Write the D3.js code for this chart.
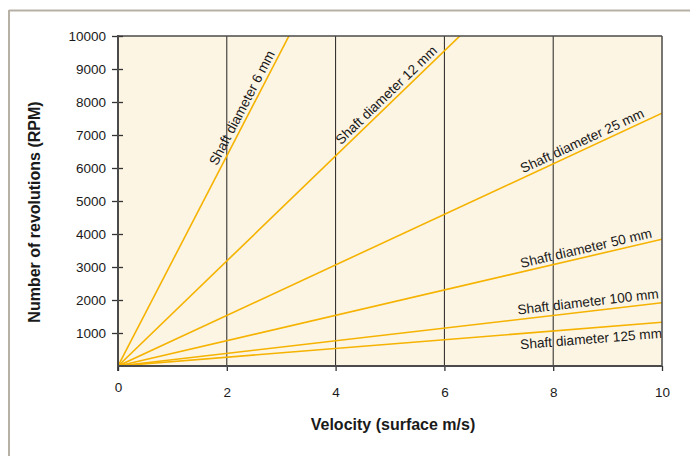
<!DOCTYPE html>
<html>
<head>
<meta charset="utf-8">
<script src="https://cdn.jsdelivr.net/npm/d3@7"></script>
<style>
html,body{margin:0;padding:0;background:#fff;}
svg{display:block;font-family:"Liberation Sans",Arial,Helvetica,sans-serif;}
</style>
</head>
<body>
<svg id="chart" width="690" height="456"></svg>
<script>
// ---- data ----
const shaftDiameters = ["6", "12", "25", "50", "100", "125"];          // mm
const rpmAtZero = [0, 0, 0, 0, 0, 0];                                   // RPM at 0 m/s
const rpmAtTen = [31831, 15915, 7660, 3840, 1915, 1325];                // RPM at 10 m/s
const velocityDomain = [0, 10];
const xTickValues = [0, 2, 4, 6, 8, 10];
const yTickValues = [1000, 2000, 3000, 4000, 5000, 6000, 7000, 8000, 9000, 10000];
const xTitle = "Velocity (surface m/s)";
const yTitle = "Number of revolutions (RPM)";

// ---- layout ----
const svg = d3.select("#chart");
const L = 118, R = 662, T = 36, B = 366;
const x = d3.scaleLinear().domain(velocityDomain).range([L, R]);
const y = d3.scaleLinear().domain([0, 10000]).range([B, T]);

// outer frame (top + left)
svg.append("line").attr("x1", 9).attr("x2", 690).attr("y1", 10.5).attr("y2", 10.5)
  .attr("stroke", "#b7b0a5").attr("stroke-width", 2);
svg.append("line").attr("x1", 9).attr("x2", 9).attr("y1", 10).attr("y2", 456)
  .attr("stroke", "#b7b0a5").attr("stroke-width", 2);

// plot background
svg.append("rect").attr("x", L).attr("y", T).attr("width", R - L).attr("height", B - T)
  .attr("fill", "#fdf5e4");

// vertical grid lines
svg.append("g").selectAll("line").data(xTickValues.filter(d => d > 0 && d < 10)).join("line")
  .attr("x1", d => x(d)).attr("x2", d => x(d)).attr("y1", T).attr("y2", B)
  .attr("stroke", "#222").attr("stroke-width", 1);

// clip
svg.append("clipPath").attr("id", "clip").append("rect")
  .attr("x", L).attr("y", T).attr("width", R - L).attr("height", B - T);

// series lines
const series = shaftDiameters.map((d, i) => ({
  name: d,
  pts: [{v: velocityDomain[0], r: rpmAtZero[i]}, {v: velocityDomain[1], r: rpmAtTen[i]}]
}));
const line = d3.line().x(p => x(p.v)).y(p => y(p.r));
svg.append("g").attr("clip-path", "url(#clip)").selectAll("path").data(series).join("path")
  .attr("d", s => line(s.pts)).attr("fill", "none")
  .attr("stroke", "#f5b300").attr("stroke-width", 1.6);

// labels along lines
const labelV = [2.42, 5.04, 8.6, 8.64, 8.66, 8.68];
const labelDy = [-4, -4, -4, -4, -5, 15.5];
series.forEach((s, i) => {
  const v = labelV[i];
  const r = rpmAtZero[i] + (rpmAtTen[i] - rpmAtZero[i]) * v / 10;
  const px = x(v), py = y(r);
  const ang = Math.atan2(y(rpmAtTen[i]) - y(rpmAtZero[i]), x(10) - x(0)) * 180 / Math.PI;
  svg.append("text")
    .attr("transform", `translate(${px},${py}) rotate(${ang})`)
    .attr("dy", labelDy[i])
    .attr("text-anchor", "middle")
    .attr("font-size", 13.7)
    .attr("fill", "#1a1a1a")
    .text(`Shaft diameter ${s.name} mm`);
});

// plot border (top, right)
svg.append("line").attr("x1", L).attr("x2", R).attr("y1", T).attr("y2", T)
  .attr("stroke", "#4a4a4a").attr("stroke-width", 1.5);
svg.append("line").attr("x1", R).attr("x2", R).attr("y1", T).attr("y2", B)
  .attr("stroke", "#4a4a4a").attr("stroke-width", 1.5);

// y axis
const yAxis = svg.append("g").attr("transform", `translate(${L},0)`)
  .call(d3.axisLeft(y).tickValues(yTickValues).tickSize(6).tickPadding(6).tickFormat(d3.format("d")));
yAxis.select(".domain").remove();
yAxis.selectAll(".tick line").attr("x1", 5).attr("x2", -6).attr("stroke", "#333").attr("stroke-width", 1.3);
yAxis.selectAll(".tick text").attr("font-size", 13.5).attr("fill", "#1a1a1a")
  .attr("font-family", "Liberation Sans, Arial, sans-serif");
svg.append("line").attr("x1", L).attr("x2", L).attr("y1", T - 1).attr("y2", B + 5)
  .attr("stroke", "#4a4a4a").attr("stroke-width", 2);

// x axis
const xAxis = svg.append("g").attr("transform", `translate(0,${B})`)
  .call(d3.axisBottom(x).tickValues(xTickValues).tickSize(5).tickPadding(0).tickFormat(d3.format("d")));
xAxis.select(".domain").remove();
xAxis.selectAll(".tick line").attr("stroke", "#333").attr("stroke-width", 1.3);
xAxis.selectAll(".tick text").attr("font-size", 13.5).attr("fill", "#1a1a1a")
  .attr("font-family", "Liberation Sans, Arial, sans-serif")
  .attr("dy", null)
  .attr("y", d => d === 0 ? 25.5 : 31);
svg.append("line").attr("x1", L - 1).attr("x2", R).attr("y1", B).attr("y2", B)
  .attr("stroke", "#4a4a4a").attr("stroke-width", 2);

// axis titles
svg.append("text").attr("x", (L + R) / 2 + 3).attr("y", 430)
  .attr("text-anchor", "middle").attr("font-size", 16).attr("font-weight", "bold")
  .attr("fill", "#1a1a1a").text(xTitle);
svg.append("text").attr("transform", "translate(40,212) rotate(-90)")
  .attr("text-anchor", "middle").attr("font-size", 16).attr("font-weight", "bold")
  .attr("fill", "#1a1a1a").text(yTitle);
</script>
</body>
</html>
